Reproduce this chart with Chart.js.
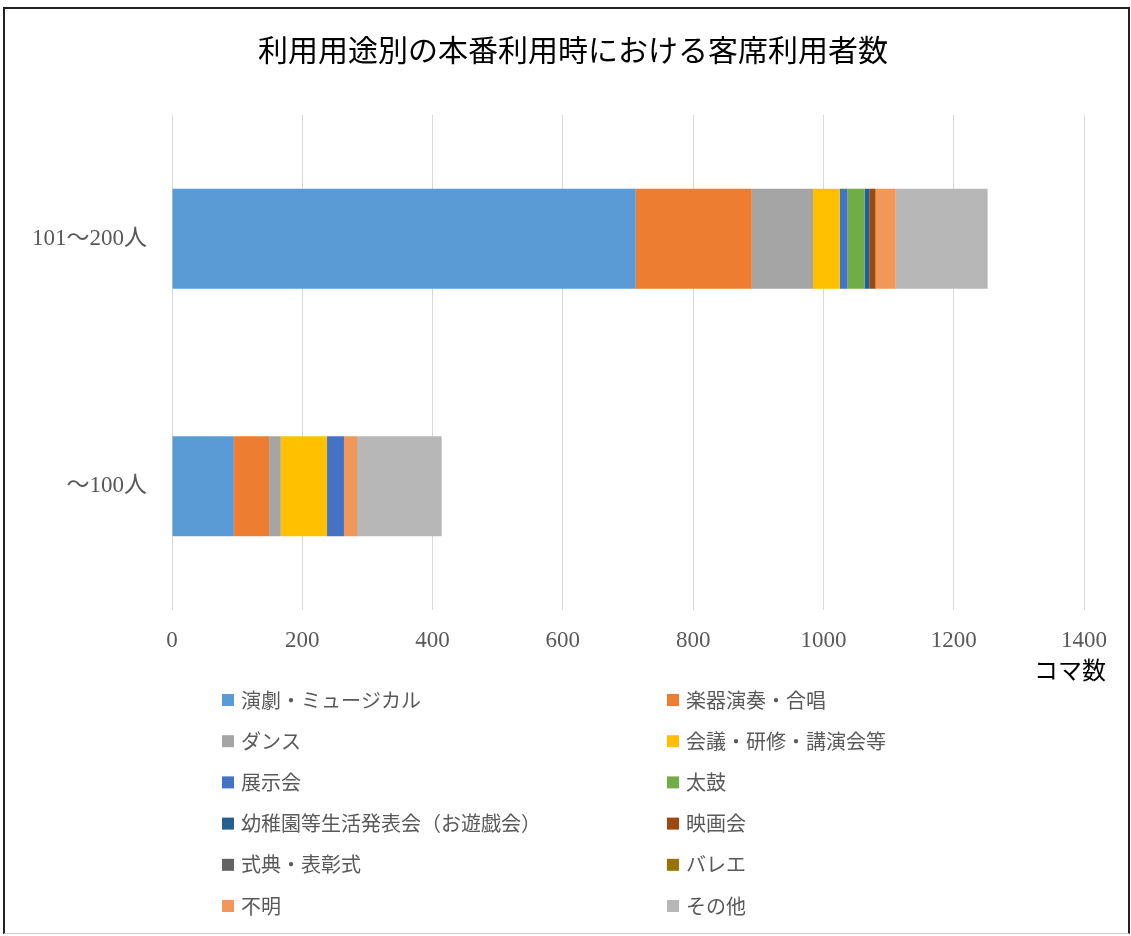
<!DOCTYPE html>
<html lang="ja">
<head>
<meta charset="utf-8">
<title>利用用途別の本番利用時における客席利用者数</title>
<script src="https://cdn.jsdelivr.net/npm/chart.js@4/dist/chart.umd.min.js"></script>
<style>
  html, body { margin: 0; padding: 0; background: #fff; }
  #wrap { position: relative; width: 1131px; height: 936px; }
  #frame { position: absolute; left: 3px; top: 7px; width: 1123px; height: 924px;
           border: 2px solid #222; border-bottom: 1px solid #d0d0d0; pointer-events: none; }
</style>
</head>
<body>
<div id="wrap">
  <canvas id="seatChart" width="1131" height="936"></canvas>
  <div id="frame"></div>
</div>
<script>
// Data (コマ数)
const chartTitle = '利用用途別の本番利用時における客席利用者数';
const axisTitle = 'コマ数';
const categories = ['101～200人', '～100人'];
const seriesNames = [
    '演劇・ミュージカル', '楽器演奏・合唱', 'ダンス', '会議・研修・講演会等',
    '展示会', '太鼓', '幼稚園等生活発表会（お遊戯会）', '映画会',
    '式典・表彰式', 'バレエ', '不明', 'その他'
];
const engeki   = [712, 95];
const gakki    = [178, 54];
const dance    = [94, 18];
const kaigi    = [41, 71];
const tenji    = [12, 26];
const taiko    = [26, 0];
const youchien = [8, 0];
const eiga     = [9, 0];
const shikiten = [0, 0];
const ballet   = [0, 0];
const fumei    = [31, 20];
const sonota   = [141, 130];
const xTicks = [0, 200, 400, 600, 800, 1000, 1200, 1400];

const seriesValues = [engeki, gakki, dance, kaigi, tenji, taiko, youchien, eiga, shikiten, ballet, fumei, sonota];
const seriesColors = ['#5B9BD5', '#ED7D31', '#A5A5A5', '#FFC000', '#4472C4', '#70AD47',
                      '#255E91', '#9E480E', '#636363', '#997300', '#F1975A', '#B7B7B7'];

const SERIF = "'Liberation Serif', 'Noto Sans CJK JP', serif";
const SANS = "'Noto Sans CJK JP', sans-serif";

// title, x axis name and two-column legend are painted here
const decorPlugin = {
    id: 'decor',
    afterDraw(chart) {
        const ctx = chart.ctx;
        ctx.save();
        ctx.fillStyle = '#000';
        ctx.font = '30px ' + SANS;
        ctx.textAlign = 'center';
        ctx.textBaseline = 'middle';
        ctx.fillText(chartTitle, 573, 50);

        ctx.font = '24px ' + SANS;
        ctx.textAlign = 'right';
        ctx.fillText(axisTitle, 1106, 670);

        ctx.font = '20px ' + SANS;
        ctx.textAlign = 'left';
        chart.data.datasets.forEach((ds, i) => {
            const col = i % 2, row = Math.floor(i / 2);
            const x = col === 0 ? 222 : 667;
            const y = 700 + row * 41.2;
            ctx.fillStyle = ds.backgroundColor;
            ctx.fillRect(x, y - 6, 12, 12);
            ctx.fillStyle = '#595959';
            ctx.fillText(ds.label, x + 19, y);
        });
        ctx.restore();
    }
};

const datasets = seriesNames.map((name, i) => ({
    label: name,
    data: seriesValues[i],
    backgroundColor: seriesColors[i],
    borderWidth: 0,
    barPercentage: 0.404,
    categoryPercentage: 1
}));

new Chart(document.getElementById('seatChart'), {
    type: 'bar',
    data: { labels: categories, datasets: datasets },
    plugins: [decorPlugin],
    options: {
        indexAxis: 'y',
        responsive: false,
        animation: false,
        layout: { padding: { top: 115, right: 47, bottom: 286, left: 0 } },
        plugins: {
            legend: { display: false },
            title: { display: false },
            tooltip: { enabled: false }
        },
        scales: {
            x: {
                stacked: true,
                min: 0,
                max: 1400,
                afterBuildTicks: (scale) => { scale.ticks = xTicks.map(v => ({ value: v })); },
                afterFit: (scale) => { scale.height = 40; },
                grid: { color: '#d9d9d9', lineWidth: 1, drawTicks: false },
                border: { display: false },
                ticks: {
                    color: '#595959', font: { family: SERIF, size: 23 }, padding: 17, maxRotation: 0,
                    callback: (v) => String(v)
                }
            },
            y: {
                stacked: true,
                afterFit: (scale) => { scale.width = 172; },
                grid: { display: false, drawTicks: false },
                border: { display: false },
                ticks: { color: '#595959', font: { family: SERIF, size: 23 }, padding: 25 }
            }
        }
    }
});
</script>
</body>
</html>
